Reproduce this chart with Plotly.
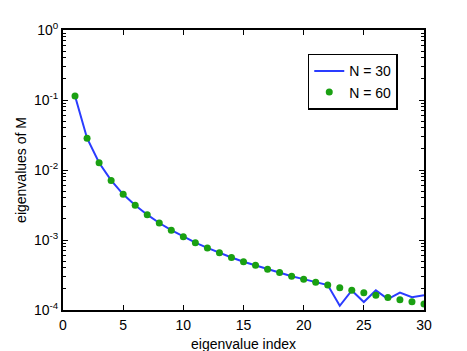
import plotly.graph_objects as go

# eigenvalue index
idx = list(range(1, 31))

# N = 30 (line)
eig_n30 = [0.114, 0.0285, 0.0127, 0.0071, 0.00449, 0.00314, 0.0023, 0.00175,
           0.00138, 0.00111, 0.000917, 0.000771, 0.000656, 0.000563, 0.00049,
           0.000435, 0.000382, 0.000343, 0.000304, 0.000276, 0.00025, 0.000227,
           0.000115, 0.00019, 0.00013, 0.000191, 0.000143, 0.000177, 0.000152,
           0.000163]

# N = 60 (dots)
eig_n60 = [0.114, 0.0285, 0.0127, 0.0071, 0.00449, 0.00314, 0.0023, 0.00175,
           0.00138, 0.00111, 0.000917, 0.000771, 0.000656, 0.000563, 0.00049,
           0.000435, 0.000382, 0.000343, 0.000304, 0.000276, 0.00025, 0.000227,
           0.000208, 0.000191, 0.000177, 0.000163, 0.000151, 0.00014, 0.000131,
           0.000122]

x_ticks = [0, 5, 10, 15, 20, 25, 30]
y_ticks = [1e-4, 1e-3, 1e-2, 1e-1, 1]
y_ticktext = ["10<sup>-4</sup>", "10<sup>-3</sup>", "10<sup>-2</sup>",
              "10<sup>-1</sup>", "10<sup>0</sup>"]
y_minor = [m * 10 ** e for e in range(-4, 0) for m in range(2, 10)]

FONT = "Liberation Sans, Arial, sans-serif"

fig = go.Figure()

fig.add_trace(go.Scatter(
    x=idx, y=eig_n30, mode="lines", name="N = 30",
    line=dict(color="#2a3cff", width=2),
))
fig.add_trace(go.Scatter(
    x=idx, y=eig_n60, mode="markers", name="N = 60",
    marker=dict(color="#1aa012", size=7),
))

axis_style = dict(
    showline=True, linecolor="black", linewidth=2, mirror="ticks",
    ticks="inside", ticklen=5, tickcolor="black", tickwidth=1,
    showgrid=False, zeroline=False,
    tickfont=dict(family=FONT, size=14, color="black"),
    title_font=dict(family=FONT, size=14, color="black"),
)

fig.update_xaxes(range=[0, 30], tickvals=x_ticks, ticklabelstandoff=1,
                 **axis_style)
fig.update_yaxes(
    type="log", range=[-4, 0], tickvals=y_ticks, ticktext=y_ticktext,
    title_text="eigenvalues of M", title_standoff=4,
    minor=dict(tickmode="array", tickvals=y_minor, ticks="inside",
               ticklen=3, tickcolor="black", tickwidth=1),
    **axis_style,
)

# x title as annotation so it sits close under the tick labels
fig.add_annotation(
    text="eigenvalue index", xref="paper", yref="paper", x=0.5, y=0,
    xanchor="center", yanchor="top", yshift=-24, showarrow=False,
    font=dict(family=FONT, size=14, color="black"),
)

# page body has an 8px margin, so shift the margins to compensate
fig.update_layout(
    width=467, height=351,
    margin=dict(l=53, r=51, t=18, b=49),
    paper_bgcolor="white", plot_bgcolor="white",
    font=dict(family=FONT, size=14, color="black"),
    showlegend=True,
    legend=dict(
        x=0.678, y=0.915, xanchor="left", yanchor="top",
        bordercolor="black", borderwidth=1.5, bgcolor="white",
        font=dict(family=FONT, size=14, color="black"),
        tracegroupgap=0, itemwidth=30,
    ),
)

fig.write_html("out.html")
